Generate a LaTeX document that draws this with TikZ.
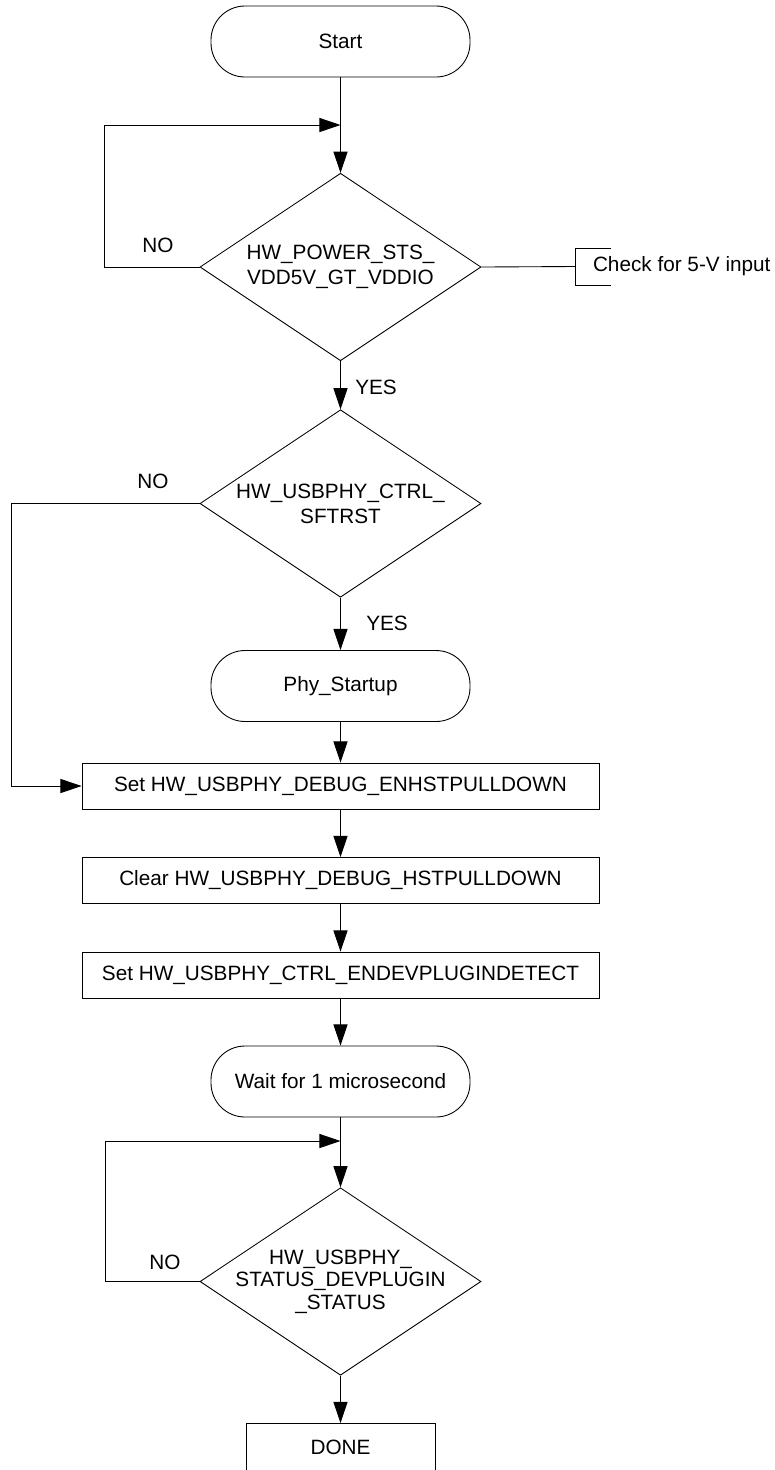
\documentclass[tikz,border=0pt]{standalone}
\usepackage{fontspec}
\setmainfont{Liberation Sans}
\usetikzlibrary{shapes.geometric,arrows.meta}
\tikzset{>={Triangle[length=12pt,width=8pt]}}
\tikzset{
  terminal/.style={draw,rectangle,rounded corners=0.68cm,minimum width=5.18cm,minimum height=1.42cm},
  decision/.style={draw,diamond,minimum width=5.62cm,minimum height=3.75cm,inner sep=0pt},
  process/.style={draw,rectangle,minimum width=10.34cm,minimum height=0.92cm,inner sep=0pt},
}

\begin{document}
\begin{tikzpicture}[line width=0.5pt,font=\fontsize{11.8}{14.2}\selectfont]
      \useasboundingbox (0,0) rectangle (15.5,-29.4);
      \clip (0,0) rectangle (15.5,-29.4);
      % boxes
      \node[terminal] (start) at (6.81,-0.83) {Start};
      \coordinate (m1) at (6.81,-2.5);
      \node[decision] (d1) at (6.81,-5.34) {};
      \node[align=center] (d1t) at (d1) {HW\_POWER\_STS\_\\VDD5V\_GT\_VDDIO};
      \node[decision] (d2) at (6.81,-10.07) {};
      \node[align=center] (d2t) at (d2) {HW\_USBPHY\_CTRL\_\\SFTRST};
      \node[terminal] (phy) at (6.81,-13.72) {Phy\_Startup};
      \node[process] (b1) at (6.81,-15.72) {Set HW\_USBPHY\_DEBUG\_ENHSTPULLDOWN};
      \node[process] (b2) at (6.81,-17.61) {Clear HW\_USBPHY\_DEBUG\_HSTPULLDOWN};
      \node[process] (b3) at (6.81,-19.5) {Set HW\_USBPHY\_CTRL\_ENDEVPLUGINDETECT};
      \node[terminal] (wait) at (6.81,-21.63) {Wait for 1 microsecond};
      \coordinate (m3) at (6.81,-22.82);
      \node[decision] (d3) at (6.81,-25.63) {};
      \node[align=center,font=\fontsize{11.8}{12.9}\selectfont] (d3t) at (d3) {HW\_USBPHY\_\\STATUS\_DEVPLUGIN\\\_STATUS};
      \node[draw,minimum width=3.78cm,minimum height=1.6cm,anchor=north] (done) at (6.81,-28.46) {};
      \node (donet) at ([yshift=-0.48cm]done.north) {DONE};
      % note
      \node[anchor=west,minimum height=0.72cm,inner xsep=10pt,inner ysep=0pt] (note) at (11.5,-5.33) {Check for 5-V input};
      \draw ([xshift=0.72cm]note.north west) -- (note.north west) -- (note.south west) -- ++(0.72,0);
      % labels
      \node (no1) at (3.16,-4.9) {NO};
      \node (yes1) at (7.52,-7.74) {YES};
      \node (no2) at (3.06,-9.62) {NO};
      \node (yes2) at (7.74,-12.46) {YES};
      \node (no3) at (3.3,-25.24) {NO};
      % arrows
      \draw[->] (start) -- (d1);
      \draw[->] (d1.west) -- ++(-1.9,0) |- (m1);
      \draw (d1.east) -- (note.west);
      \draw[->] (d1) -- (d2);
      \draw[->] (d2.west) -- ++(-3.76,0) |- (b1.west);
      \draw[->] (d2) -- (phy);
      \draw[->] (phy) -- (b1);
      \draw[->] (b1) -- (b2);
      \draw[->] (b2) -- (b3);
      \draw[->] (b3) -- (wait);
      \draw[->] (wait) -- (d3);
      \draw[->] (d3.west) -- ++(-1.88,0) |- (m3);
      \draw[->] (d3) -- (done);
\end{tikzpicture}
\end{document}
